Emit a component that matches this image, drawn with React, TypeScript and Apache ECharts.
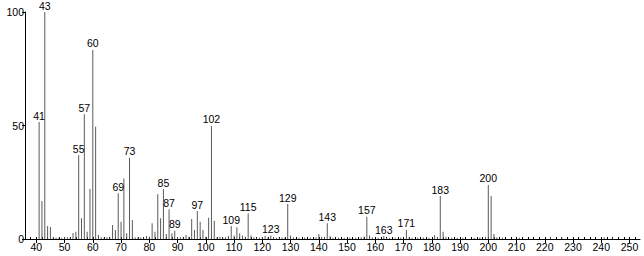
import React, { useEffect, useRef } from "react";
import * as echarts from "echarts";

const mzValues: number[] = [
  41, 42, 43, 44, 45, 46, 47, 48, 49, 50, 51, 52, 53, 54, 55, 56, 57, 58, 59, 60,
  61, 62, 63, 64, 65, 66, 67, 68, 69, 70, 71, 72, 73, 74, 75, 76, 77, 78, 79, 80,
  81, 82, 83, 84, 85, 86, 87, 88, 89, 90, 91, 92, 93, 94, 95, 96, 97, 98, 99, 100,
  101, 102, 103, 104, 105, 106, 107, 108, 109, 110, 111, 112, 113, 114, 115, 116, 117, 118, 119, 120,
  121, 122, 123, 124, 125, 126, 127, 128, 129, 130, 131, 133, 135, 137, 139, 140, 141, 142, 143, 144,
  145, 147, 149, 151, 153, 155, 156, 157, 158, 159, 161, 163, 164, 165, 167, 169, 171, 172, 173, 175,
  177, 179, 181, 182, 183, 184, 185, 187, 189, 191, 195, 197, 199, 200, 201, 202, 203, 205, 211, 222,
  226, 241, 244,
];

const intensities: number[] = [
  51.5, 16.7, 100, 5.7, 5.3, 0.8, 0.6, 0.5, 0.6, 0.7, 0.8, 0.6, 2.6, 3.2, 36.9, 9.1, 55, 3.2, 22, 83.3,
  49.5, 1.8, 0.8, 0.6, 0.8, 0.7, 6.2, 4, 20.1, 7.6, 26.7, 2.5, 35.8, 8.4, 0.8, 0.5, 0.7, 0.5, 1.3, 1,
  6.9, 3.2, 19.7, 9.1, 22, 2.2, 13.1, 2.5, 3.6, 0.8, 0.8, 0.5, 1.8, 1, 8.8, 4, 12.3, 7.6, 4, 1,
  9.4, 49.8, 8, 0.8, 1, 0.6, 0.8, 1.3, 5.7, 1.5, 5.2, 2.5, 1.5, 0.7, 11.2, 1.5, 0.8, 0.5, 0.6, 0.8,
  1.3, 0.6, 1.5, 0.8, 0.6, 0.5, 0.8, 0.6, 15.4, 1.5, 0.8, 0.5, 0.7, 0.7, 0.8, 2.2, 1, 0.8, 6.9, 1.2,
  0.6, 0.5, 0.6, 0.7, 0.5, 0.8, 1, 9.8, 1.5, 0.7, 0.6, 1.3, 0.6, 0.5, 0.6, 0.7, 4, 0.8, 0.5, 0.6,
  0.7, 0.5, 1.8, 0.8, 18.9, 3.2, 1, 0.5, 0.6, 0.5, 0.6, 0.7, 1, 23.8, 18.9, 2.2, 0.7, 0.5, 0.6, 1,
  0.8, 0.8, 0.6,
];

const labeledPeaks: number[] = [
  41, 43, 55, 57, 60, 69, 73, 85, 87, 89, 97, 102, 109, 115, 123, 129, 143, 157, 163, 171, 183, 200,
];

const xMajorTicks: number[] = [40, 50, 60, 70, 80, 90, 100, 110, 120, 130, 140, 150, 160, 170, 180, 190, 200, 210, 220, 230, 240, 250];
const xMinorTicks: number[] = [];
for (let v = 36; v <= 252; v += 2) xMinorTicks.push(v);

const yTicks: number[] = [0, 50, 100];

export default function App() {
  const ref = useRef<HTMLDivElement>(null);
  useEffect(() => {
    if (!ref.current) return;
    const chart = echarts.init(ref.current, null, { renderer: "svg" });
    const font = "Liberation Sans";
    const data = mzValues.map((mz, i) => ({
      value: [mz, intensities[i]],
      label: { show: labeledPeaks.includes(mz) },
    }));
    chart.setOption({
      animation: false,
      backgroundColor: "#ffffff",
      grid: { left: 25, right: 4, top: 12, bottom: 17 },
      xAxis: [
        {
          type: "value",
          min: 36,
          max: 253.7,
          splitLine: { show: false },
          axisLine: { show: true, lineStyle: { color: "#000", width: 1 } },
          axisTick: { show: true, length: 4, customValues: xMajorTicks, lineStyle: { color: "#000" } },
          axisLabel: {
            show: true,
            customValues: xMajorTicks,
            fontSize: 10.5,
            fontFamily: font,
            color: "#000",
            margin: 2,
          },
        },
        {
          type: "value",
          min: 36,
          max: 253.7,
          position: "bottom",
          splitLine: { show: false },
          axisLine: { show: false },
          axisTick: { show: true, inside: true, length: 2, customValues: xMinorTicks, lineStyle: { color: "#000" } },
          axisLabel: { show: false },
        },
      ],
      yAxis: {
        type: "value",
        min: 0,
        max: 100,
        interval: 50,
        splitLine: { show: false },
        axisLine: { show: true, lineStyle: { color: "#000", width: 1 } },
        axisTick: { show: true, length: 3, customValues: yTicks, lineStyle: { color: "#000" } },
        axisLabel: {
          fontSize: 10.5,
          fontFamily: font,
          color: "#000",
          margin: 1,
          customValues: yTicks,
        },
      },
      series: [
        {
          type: "bar",
          xAxisIndex: 0,
          barWidth: 1,
          itemStyle: { color: "#5a5a5a" },
          label: {
            position: "top",
            distance: 1,
            fontSize: 10.5,
            fontFamily: font,
            color: "#000",
            formatter: (p: any) => String(p.value[0]),
          },
          data,
        },
      ],
    });
    return () => chart.dispose();
  }, []);
  return (
    <div
      ref={ref}
      style={{ position: "fixed", left: 0, top: 0, width: 644, height: 256, background: "#fff" }}
    />
  );
}
